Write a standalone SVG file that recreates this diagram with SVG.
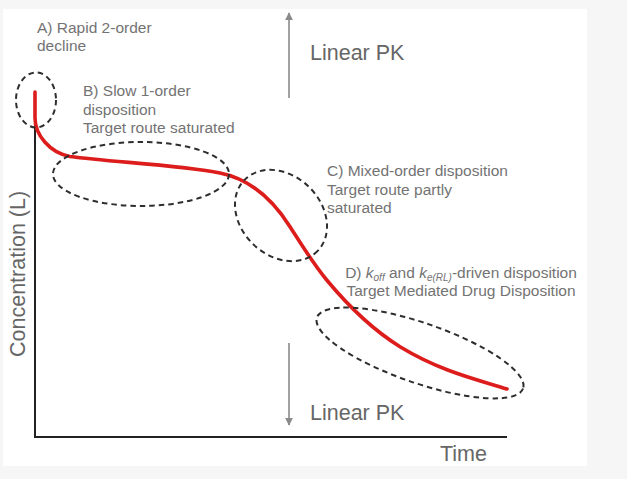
<svg xmlns="http://www.w3.org/2000/svg" width="627" height="479" viewBox="0 0 627 479">
  <style>
    .lbl { font-family: "Liberation Sans", Arial, sans-serif; font-size: 15.5px; fill: #737373; }
    .big { font-family: "Liberation Sans", Arial, sans-serif; font-size: 21.5px; fill: #666666; }
    .ring { fill: none; stroke: #2e2e2e; stroke-width: 2; stroke-dasharray: 5.5 4; }
    .axis { fill: none; stroke: #222222; stroke-width: 2; }
    .pk { fill: none; stroke: #8a8a8a; stroke-width: 1.6; }
    .curve { fill: none; stroke: #dd1c1c; stroke-width: 3.6; stroke-linecap: round; stroke-linejoin: round; }
  </style>
  <defs>
    <marker id="ah" viewBox="0 0 10 10" refX="9" refY="5" markerWidth="5" markerHeight="5" orient="auto" markerUnits="strokeWidth">
      <path d="M0,0 L10,5 L0,10 Z" fill="#8a8a8a"/>
    </marker>
  </defs>
  <rect x="0" y="0" width="627" height="479" fill="#f6f6f6"/>
  <rect x="3" y="9" width="584" height="457" fill="#ffffff"/>

  <g id="axes">
    <line class="axis" x1="35" y1="92" x2="35" y2="437"/>
    <line class="axis" x1="34" y1="437" x2="507" y2="437"/>
    <text class="big" x="440" y="461">Time</text>
    <text class="big" transform="translate(25,357) rotate(-90)">Concentration (L)</text>
  </g>

  <g id="connectors">
    <line class="pk" x1="289" y1="98" x2="289" y2="13" marker-end="url(#ah)"/>
    <line class="pk" x1="289" y1="343" x2="289" y2="425" marker-end="url(#ah)"/>
  </g>

  <g id="linear-pk-top">
    <text class="big" x="310" y="60">Linear PK</text>
  </g>
  <g id="linear-pk-bottom">
    <text class="big" x="310" y="420">Linear PK</text>
  </g>

  <g id="curve">
    <path class="curve" d="M35,92 L35,118 C35,135 50,153 70,156.5 C110,162 180,165 220,173 C245,178 270,195 290,226.7 C303,247 312,262 326.7,280 C340,296 365,325 400,346.7 C440,371 475,379 507,389"/>
  </g>

  <g id="region-a">
    <ellipse class="ring" cx="36" cy="100" rx="20" ry="27.5"/>
    <text class="lbl" x="37" y="33">A) Rapid 2-order</text>
    <text class="lbl" x="37" y="51">decline</text>
  </g>

  <g id="region-b">
    <ellipse class="ring" cx="141" cy="174" rx="88" ry="32"/>
    <text class="lbl" x="83" y="96">B) Slow 1-order</text>
    <text class="lbl" x="83" y="114.5">disposition</text>
    <text class="lbl" x="83" y="133">Target route saturated</text>
  </g>

  <g id="region-c">
    <ellipse class="ring" cx="281" cy="215.5" rx="51" ry="40" transform="rotate(44 281 215.5)"/>
    <text class="lbl" x="327" y="176">C) Mixed-order disposition</text>
    <text class="lbl" x="327" y="194.5">Target route partly</text>
    <text class="lbl" x="327" y="213">saturated</text>
  </g>

  <g id="region-d">
    <ellipse class="ring" cx="420" cy="353" rx="109" ry="30" transform="rotate(19 420 353)"/>
    <text class="lbl" x="461" y="278" text-anchor="middle">D) <tspan font-style="italic">k</tspan><tspan font-style="italic" font-size="10" dy="3">off</tspan><tspan dy="-3"> and </tspan><tspan font-style="italic">k</tspan><tspan font-style="italic" font-size="10" dy="3">e(RL)</tspan><tspan dy="-3">-driven disposition</tspan></text>
    <text class="lbl" x="461" y="296" text-anchor="middle">Target Mediated Drug Disposition</text>
  </g>
</svg>
